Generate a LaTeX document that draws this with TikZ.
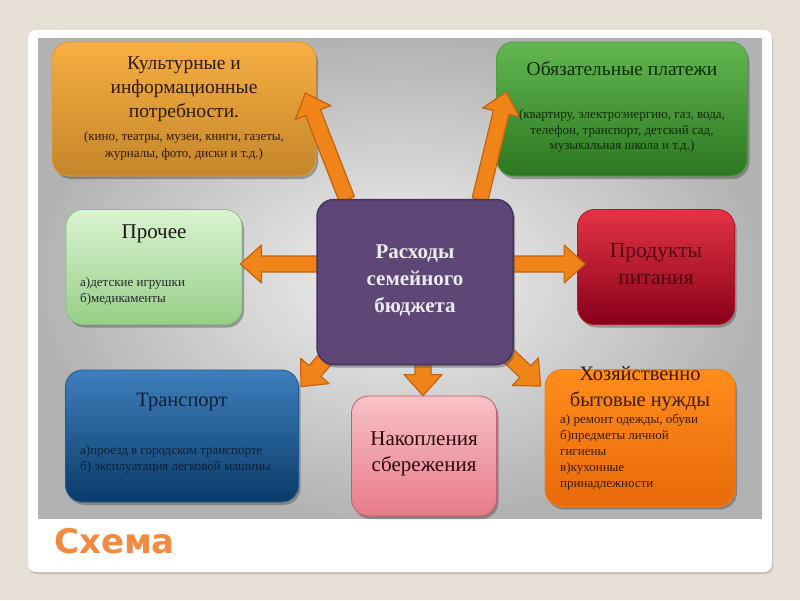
\documentclass[tikz,border=0pt]{standalone}
\usepackage{fontspec}
\setmainfont{Liberation Serif}
\newfontfamily\schfont{DejaVu Sans}
\usetikzlibrary{calc,shadows}
\definecolor{bgbeige}{HTML}{E6DFD5}
\definecolor{arrfill}{HTML}{F08418}
\definecolor{arrdraw}{HTML}{C06410}
\definecolor{schcol}{HTML}{F28A40}
\newcommand\blockarr[2]{%
  \coordinate (ta) at #1; \coordinate (tb) at #2;
  \coordinate (th) at ($(tb)!21pt!(ta)$);
  \filldraw[arrsty] ($(ta)!8pt!90:(tb)$) -- ($(th)!8pt!-90:(ta)$) -- ($(th)!19pt!-90:(ta)$) -- (tb)
    -- ($(th)!19pt!90:(ta)$) -- ($(th)!8pt!90:(ta)$) -- ($(ta)!8pt!-90:(tb)$) -- cycle;}
\begin{document}
\begin{tikzpicture}[x=1pt,y=-1pt,
  box/.style={rounded corners=17pt, inner sep=0pt, line width=0.8pt,
    drop shadow={shadow xshift=2pt, shadow yshift=-3pt, opacity=0.45, fill=black!70}},
  arrsty/.style={fill=arrfill, draw=arrdraw, line width=1.2pt, line join=round},
  ttl/.style={inner sep=0pt, align=center, font=\fontsize{19.5}{24}\selectfont},
  sml/.style={inner sep=0pt, align=center, font=\fontsize{13}{17.5}\selectfont},
  lsml/.style={inner sep=0pt, align=left, anchor=west, font=\fontsize{13}{16}\selectfont}]
\useasboundingbox (0,0) rectangle (800,600);
\fill[bgbeige] (0,0) rectangle (800,600);
\fill[white, rounded corners=8pt, drop shadow={shadow xshift=1pt, shadow yshift=-2pt, opacity=0.35}] (28,30) rectangle (772,572);
\shade[inner color=white!95!black, outer color=black!30] (38,38) rectangle (762,518);
\node[font=\schfont\bfseries\fontsize{34}{34}\selectfont, text=schcol, anchor=base west, inner sep=0pt] (sch) at (54,553) {Схема};

% boxes
\node[box, top color={rgb,255:red,247;green,174;blue,66}, bottom color={rgb,255:red,196;green,134;blue,42}, draw={rgb,255:red,227;green,154;blue,51}, minimum width=264, minimum height=134] (kul) at (184,109) {};
\node[box, top color={rgb,255:red,99;green,182;blue,81}, bottom color={rgb,255:red,44;green,120;blue,33}, draw={rgb,255:red,78;green,158;blue,62}, minimum width=251, minimum height=134] (obz) at (622,109) {};
\node[box, top color={rgb,255:red,219;green,243;blue,210}, bottom color={rgb,255:red,150;green,207;blue,136}, draw={rgb,255:red,136;green,194;blue,122}, minimum width=176, minimum height=115] (pro) at (154,267) {};
\node[box, top color={rgb,255:red,228;green,52;blue,68}, bottom color={rgb,255:red,136;green,0;blue,26}, draw={rgb,255:red,176;green,24;blue,44}, minimum width=157, minimum height=115] (prd) at (656,267) {};
\node[box, top color={rgb,255:red,63;green,127;blue,189}, bottom color={rgb,255:red,10;green,59;blue,105}, draw={rgb,255:red,30;green,90;blue,146}, minimum width=233, minimum height=132] (trn) at (182,436) {};
\node[box, top color={rgb,255:red,248;green,194;blue,200}, bottom color={rgb,255:red,231;green,122;blue,136}, draw={rgb,255:red,196;green,94;blue,110}, minimum width=145, minimum height=120] (nak) at (424,456) {};
\node[box, top color={rgb,255:red,255;green,141;blue,28}, bottom color={rgb,255:red,232;green,105;blue,10}, draw={rgb,255:red,240;green,128;blue,32}, minimum width=190, minimum height=137] (hoz) at (640,438) {};

% reference points of the centre box (box itself drawn later, on top)
\path (415,282) coordinate (cc);
\path ($(cc)+(-98,-82.5)$) coordinate (cnw) ($(cc)+(98,-82.5)$) coordinate (cne)
      ($(cc)+(-98,82.5)$) coordinate (csw) ($(cc)+(98,82.5)$) coordinate (cse)
      ($(cc)+(-98,0)$) coordinate (cw) ($(cc)+(98,0)$) coordinate (ce) ($(cc)+(0,82.5)$) coordinate (cs);

% arrows
\blockarr{($(cnw)+(30,0)$)}{($(kul.east)+(-11,-16)$)}
\blockarr{($(cne)+(-33,0)$)}{($(obz.west)+(10,-17)$)}
\blockarr{($(cw)+(5,-18)$)}{($(pro.east)+(-2,-3)$)}
\blockarr{($(ce)+(-5,-18)$)}{($(prd.west)+(8,-3)$)}
\blockarr{($(csw)+(18,-16)$)}{($(trn.north east)+(2,17)$)}
\blockarr{($(cs)+(8,-5)$)}{($(nak.north)+(-1,0)$)}
\blockarr{($(cse)+(-10,-14)$)}{($(hoz.north west)+(-4,17)$)}

% centre box
\node[box, fill={rgb,255:red,94;green,70;blue,119}, draw={rgb,255:red,70;green,52;blue,94}, line width=1.5pt, minimum width=196, minimum height=165] (c0) at (cc) {};

% texts
\node[ttl, text={rgb,255:red,43;green,27;blue,5}] (kulT) at (184,89) {Культурные и\\информационные\\потребности.};
\node[sml, text={rgb,255:red,43;green,27;blue,5}] (kulS) at (184,146) {(кино, театры, музеи, книги, газеты,\\журналы, фото, диски и т.д.)};
\node[ttl, text={rgb,255:red,14;green,42;blue,6}] (obzT) at (622,69) {Обязательные платежи};
\node[sml, font=\fontsize{13}{15.5}\selectfont, text={rgb,255:red,14;green,42;blue,6}] (obzS) at (622,131) {(квартиру, электроэнергию, газ, вода,\\телефон, транспорт, детский сад,\\музыкальная школа и т.д.)};
\node[ttl, font=\fontsize{21}{24}\selectfont, text=black!90] (proT) at (154,234) {Прочее};
\node[lsml, text=black!85] (proS) at (80,291) {а)детские игрушки\\б)медикаменты};
\node[ttl, font=\fontsize{21.5}{27}\selectfont, text={rgb,255:red,80;green,6;blue,18}] (prdT) at (656,264) {Продукты\\питания};
\node[ttl, font=\bfseries\fontsize{21}{27}\selectfont, text=white!92!black] (c0T) at (415,280) {Расходы\\семейного\\бюджета};
\node[ttl, font=\fontsize{20.5}{24}\selectfont, text={rgb,255:red,10;green,32;blue,53}] (trnT) at (182,402) {Транспорт};
\node[lsml, text={rgb,255:red,10;green,32;blue,53}] (trnS) at (80,459) {а)проезд в городском транспорте\\б) эксплуатация легковой машины};
\node[ttl, font=\fontsize{21}{26}\selectfont, text={rgb,255:red,42;green,10;blue,16}] (nakT) at (424,454) {Накопления\\сбережения};
\node[ttl, font=\fontsize{20.5}{26}\selectfont, text={rgb,255:red,58;green,26;blue,0}] (hozT) at (640,389) {Хозяйственно\\бытовые нужды};
\node[lsml, text={rgb,255:red,58;green,26;blue,0}] (hozS) at (560,452) {а) ремонт одежды, обуви\\б)предметы личной\\гигиены\\в)кухонные\\принадлежности};
\end{tikzpicture}
\end{document}
